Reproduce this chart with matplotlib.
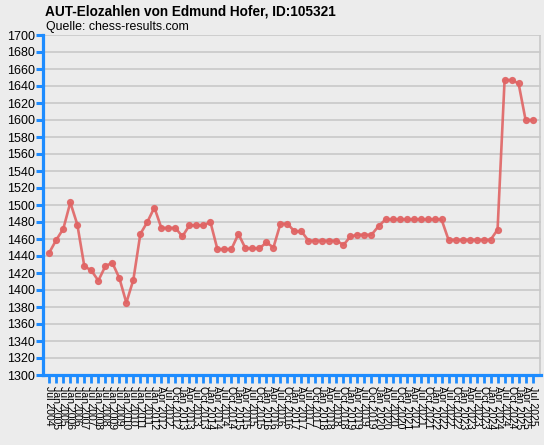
import matplotlib
matplotlib.use("Agg")
import matplotlib.pyplot as plt
import numpy as np

plt.rcParams['font.family'] = ['Liberation Sans', 'DejaVu Sans']

title = "AUT-Elozahlen von Edmund Hofer, ID:105321"
subtitle = "Quelle: chess-results.com"

periods = [
    "Jul 2004", "Jan 2005", "Jul 2005", "Jan 2006", "Jul 2006", "Jan 2007", "Jul 2007",
    "Jan 2008", "Jul 2008", "Jan 2009", "Jul 2009", "Jan 2010", "Jul 2010", "Jan 2011",
    "Jul 2011", "Jan 2012", "Apr 2012", "Jul 2012", "Oct 2012",
    "Jan 2013", "Apr 2013", "Jul 2013", "Oct 2013",
    "Jan 2014", "Apr 2014", "Jul 2014", "Oct 2014",
    "Jan 2015", "Apr 2015", "Jul 2015", "Oct 2015",
    "Jan 2016", "Apr 2016", "Jul 2016", "Oct 2016",
    "Jan 2017", "Apr 2017", "Jul 2017", "Oct 2017",
    "Jan 2018", "Apr 2018", "Jul 2018", "Oct 2018",
    "Jan 2019", "Apr 2019", "Jul 2019", "Oct 2019",
    "Jan 2020", "Apr 2020", "Jul 2020", "Oct 2020",
    "Jan 2021", "Apr 2021", "Jul 2021", "Oct 2021",
    "Jan 2022", "Apr 2022", "Jul 2022", "Oct 2022",
    "Jan 2023", "Apr 2023", "Jul 2023", "Oct 2023",
    "Jan 2024", "Apr 2024", "Jul 2024", "Oct 2024",
    "Jan 2025", "Apr 2025", "Jul 2025",
]

elo = [
    1444, 1459, 1472, 1503, 1477, 1428, 1423, 1411, 1428, 1432,
    1414, 1385, 1412, 1466, 1480, 1497, 1473, 1473, 1473, 1463,
    1476, 1476, 1476, 1480, 1448, 1448, 1448, 1466, 1449, 1449,
    1449, 1456, 1450, 1478, 1478, 1469, 1469, 1458, 1458, 1458,
    1458, 1458, 1453, 1463, 1465, 1465, 1465, 1475, 1483, 1483,
    1483, 1483, 1483, 1483, 1483, 1483, 1483, 1459, 1459, 1459,
    1459, 1459, 1459, 1459, 1471, 1647, 1647, 1643, 1600, 1600,
]

y_ticks = list(range(1300, 1701, 20))

BG = '#ececec'
GRID = '#c8c8c8'
BLUE = '#1e8cff'
LINE = '#e06464'

W, H = 544, 445
fig = plt.figure(figsize=(W / 100, H / 100), dpi=100, facecolor=BG)
left_px, right_px, top_px, bot_px = 43, 541, 35, 375
ax = fig.add_axes([left_px / W, 1 - bot_px / H, (right_px - left_px) / W, (bot_px - top_px) / H])
ax.set_facecolor(BG)

x = np.arange(len(elo))
ax.plot(x, elo, color=LINE, lw=1.9, marker='o', ms=4.2, mfc=LINE, mec=LINE, alpha=0.9, zorder=3, clip_on=False)

ax.set_xlim(-0.9, len(elo) + 0.2)
ax.set_ylim(1300, 1700)
ax.set_yticks(y_ticks)
ax.set_yticklabels([str(v) for v in y_ticks], fontsize=9)
ax.set_xticks(x)
ax.set_xticklabels(periods, rotation=-90, fontsize=7.6, ha='center', va='top')

ax.set_xticks(np.arange(len(elo) + 1), minor=True)
ax.grid(True, which='major', axis='y', color=GRID, lw=1.2, zorder=0)
ax.grid(True, which='minor', axis='x', color=GRID, lw=1.2, zorder=0)
ax.set_axisbelow(True)

for s in ['top', 'right']:
    ax.spines[s].set_visible(False)
for s in ['left', 'bottom']:
    ax.spines[s].set_color(BLUE)
    ax.spines[s].set_linewidth(2.3)

ax.tick_params(axis='y', which='major', colors=BLUE, length=5, width=2.2, pad=1, labelcolor='black')
ax.tick_params(axis='x', which='major', colors=BLUE, length=6, width=2.0, pad=2, labelcolor='black')
ax.tick_params(axis='x', which='minor', length=0)

fig.text(45 / W, 1 - 11 / H, title, fontsize=9.8, fontweight='bold', ha='left', va='center')
fig.text(46 / W, 1 - 27 / H, subtitle, fontsize=8.9, ha='left', va='center')

fig.savefig('out.png', dpi=100, facecolor=BG)
